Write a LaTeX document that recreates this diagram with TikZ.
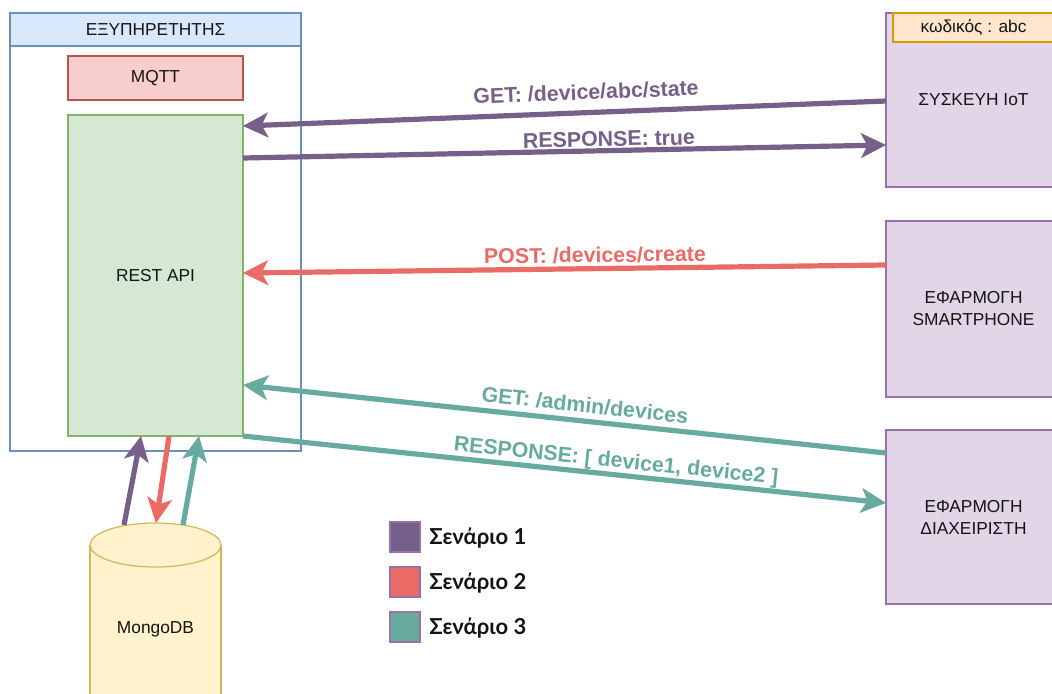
\documentclass[tikz,border=0pt]{standalone}
\usepackage{fontspec}
\setmainfont{Liberation Sans}
\newfontfamily\legendfont{Lato}
\usetikzlibrary{arrows.meta,calc}

\definecolor{srvfill}{HTML}{DAE8FC}
\definecolor{srvline}{HTML}{6C8EBF}
\definecolor{mqfill}{HTML}{F8CECC}
\definecolor{mqline}{HTML}{B85450}
\definecolor{apifill}{HTML}{D5E8D4}
\definecolor{apiline}{HTML}{82B366}
\definecolor{devfill}{HTML}{E1D5E7}
\definecolor{devline}{HTML}{9673A6}
\definecolor{codefill}{HTML}{FFE6CC}
\definecolor{codeline}{HTML}{D79B00}
\definecolor{dbfill}{HTML}{FFF2CC}
\definecolor{dbline}{HTML}{D6B656}
\definecolor{scA}{HTML}{76608A}
\definecolor{scB}{HTML}{EA6B66}
\definecolor{scC}{HTML}{67AB9F}
\definecolor{ink}{HTML}{141414}

% one unit = one pixel of the 1052 x 693 sheet
\def\pxu{0.75pt}

\begin{document}
\begin{tikzpicture}[x=0.75pt,y=-0.75pt,
  box/.style={draw, line width=0.9pt, inner sep=0pt, outer sep=0pt, align=center,
    text=ink, font=\fontsize{13}{16.5}\selectfont},
  devbox/.style={box, fill=devfill, draw=devline, minimum width=175*\pxu},
  flow/.style={line width=3.9pt,
    -{Stealth[length=19pt, width=19pt, inset=5pt, line width=0pt]}},
  lab/.style={inner sep=0pt, font=\bfseries\fontsize{16}{18}\selectfont},
  legbox/.style={draw=devline, line width=0.9pt, minimum width=30*\pxu,
    minimum height=30*\pxu, inner sep=0pt},
  legtext/.style={anchor=west, inner sep=0pt, text=ink,
    font=\legendfont\bfseries\fontsize{16.5}{19}\selectfont}]

\useasboundingbox (0,0) rectangle (1052,693);
\clip (0,0) rectangle (1052,693);

% server container with its title band
\node[box, draw=srvline, fill=white, minimum width=291*\pxu, minimum height=438*\pxu]
  (srv) at (155.5,232) {};
\node[box, draw=srvline, fill=srvfill, minimum width=291*\pxu, minimum height=33*\pxu]
  (hdr) at (155.5,29.5) {ΕΞΥΠΗΡΕΤΗΤΗΣ};
\node[box, draw=mqline, fill=mqfill, minimum width=175*\pxu, minimum height=44*\pxu]
  (mqtt) at (155.5,78) {MQTT};
\node[box, draw=apiline, fill=apifill, minimum width=175*\pxu, minimum height=321*\pxu]
  (rest) at (155.5,275.5) {REST API};

% clients on the right
\node[devbox, minimum height=174*\pxu] (iot) at (973.5,100) {ΣΥΣΚΕΥΗ IoT};
\node[box, draw=codeline, fill=codefill, minimum width=161*\pxu, minimum height=29*\pxu]
  (code) at (973.5,27.5) {κωδικός : abc};
\node[devbox, minimum height=176*\pxu] (phone) at (973.5,309) {ΕΦΑΡΜΟΓΗ\\SMARTPHONE};
\node[devbox, minimum height=174*\pxu] (admin) at (973.5,517) {ΕΦΑΡΜΟΓΗ\\ΔΙΑΧΕΙΡΙΣΤΗ};

% database cylinder
\fill[dbfill] (90,545) rectangle (221,760);
\draw[dbline, line width=0.9pt] (90,545) -- (90,760) (221,545) -- (221,760);
\draw[dbline, fill=dbfill, line width=0.9pt] (155.5,545) ellipse [x radius=65.5, y radius=22];
\node[text=ink, font=\fontsize{13}{15}\selectfont, inner sep=0pt] (db) at (155.5,629) {MongoDB};
\coordinate (dbA) at (124,525);
\coordinate (dbB) at (156,523);
\coordinate (dbC) at (183,525);

% scenario 1
\draw[flow, scA] ($(iot.west)+(0,1)$) -- ($(rest.north east)+(0,11)$);
\draw[flow, scA] ($(rest.north east)+(0,43)$) -- ($(iot.west)+(0,45)$);
\draw[flow, scA] (dbA) -- ($(rest.south)+(-14.5,0)$);
\node[lab, text=scA, rotate=2.2] (l1) at (586,92) {GET: /device/abc/state};
\node[lab, text=scA, rotate=1.2] (l2) at (609,139) {RESPONSE: true};

% scenario 2
\draw[flow, scB] ($(phone.west)+(0,-44)$) -- ($(rest.east)+(0,-2.5)$);
\draw[flow, scB] ($(rest.south)+(13.5,0)$) -- (dbB);
\node[lab, text=scB, rotate=0.7] (l3) at (595,255) {POST: /devices/create};

% scenario 3
\draw[flow, scC] ($(admin.north west)+(0,23)$) -- ($(rest.south east)+(0,-51)$);
\draw[flow, scC] (rest.south east) -- ($(admin.west)+(0,-14)$);
\draw[flow, scC] (dbC) -- ($(rest.south)+(43.5,0)$);
\node[lab, text=scC, rotate=-6.2] (l4) at (585,405) {GET: /admin/devices};
\node[lab, text=scC, rotate=-6] (l5) at (616,462) {RESPONSE: [ device1, device2 ]};

% legend
\node[legbox, fill=scA] (k1) at (405,537) {};
\node[legbox, fill=scB] (k2) at (405,582) {};
\node[legbox, fill=scC] (k3) at (405,627) {};
\node[legtext] (t1) at (429,538) {Σενάριο 1};
\node[legtext] (t2) at (429,583) {Σενάριο 2};
\node[legtext] (t3) at (429,628) {Σενάριο 3};
\end{tikzpicture}
\end{document}
